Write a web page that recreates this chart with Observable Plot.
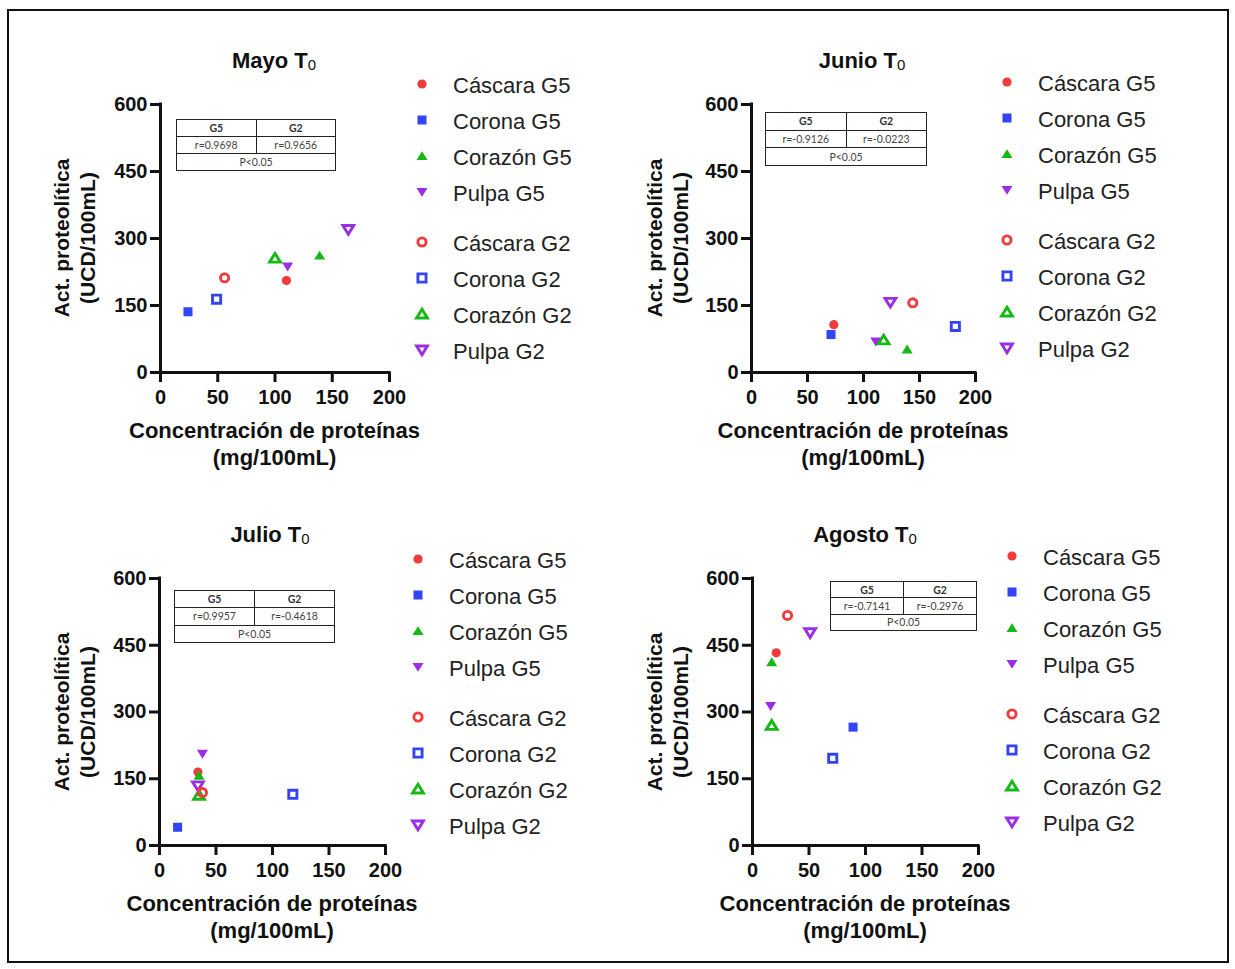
<!DOCTYPE html>
<html><head><meta charset="utf-8">
<script src="https://cdn.jsdelivr.net/npm/d3@7"></script>
<script src="https://cdn.jsdelivr.net/npm/@observablehq/plot@0.6"></script>
<style>
body{margin:0;background:#fff;font-family:"Liberation Sans",Arial,sans-serif;}
#fig{position:relative;width:1235px;height:969px;overflow:hidden;background:#fff;}
#border{position:absolute;left:7px;top:9px;width:1222px;height:954px;border:2px solid #111;box-sizing:border-box;}
.abs{position:absolute;}
.title{font-size:22px;font-weight:bold;color:#111;white-space:nowrap;transform:translate(-50%,-50%);}
.title sub{font-size:15px;font-weight:normal;vertical-align:baseline;position:relative;top:2px;}
.ylab{font-size:21px;font-weight:bold;color:#111;text-align:center;line-height:26px;white-space:nowrap;transform:translate(-50%,-50%) rotate(-90deg);}
.xlab{font-size:22px;font-weight:bold;color:#111;text-align:center;line-height:27px;white-space:nowrap;transform:translate(-50%,-50%);}
.leg{font-size:22px;color:#222;white-space:nowrap;line-height:26px;transform:translateY(-50%);}
.legsym{position:absolute;transform:translate(-50%,-50%);}
table.rt{position:absolute;border-collapse:collapse;font-family:Lato,"Open Sans",sans-serif;font-size:10.5px;color:#444;table-layout:fixed;}
table.rt td{border:1.6px solid #222;text-align:center;padding:0;line-height:14px;}
table.rt tr.h td{font-weight:bold;color:#333;}
</style></head>
<body><div id="fig"><div id="border"></div></div>
<script>
// ---- data ----
const months = ["Mayo", "Junio", "Julio", "Agosto"];
const parts = ["Cáscara", "Corona", "Corazón", "Pulpa"];
const colors = ["#f43b3b", "#3344f5", "#16b816", "#9a2ee6"];
const xTicks = [0, 50, 100, 150, 200];
const yTicks = [0, 150, 300, 450, 600];

// G5 (filled) values per month, order = parts
const g5x = {Mayo: [110, 24, 139, 111], Junio: [73.5, 71, 139, 111], Julio: [34, 16, 35, 38], Agosto: [21, 89, 17, 16]};
const g5y = {Mayo: [206, 136, 262, 237], Junio: [107, 85, 52, 69], Julio: [165, 41, 157, 206], Agosto: [433, 266, 412, 313]};
// G2 (open) values per month
const g2x = {Mayo: [56, 49, 100, 164], Junio: [144, 182, 118, 124], Julio: [38, 118, 35, 34], Agosto: [31, 71, 17, 51]};
const g2y = {Mayo: [212, 164, 256, 320], Junio: [156, 103, 73, 157], Julio: [119, 115, 113, 134], Agosto: [517, 196, 270, 478]};

const rG5 = ["r=0.9698", "r=-0.9126", "r=0.9957", "r=-0.7141"];
const rG2 = ["r=0.9656", "r=-0.0223", "r=-0.4618", "r=-0.2976"];
const pText = "P<0.05";
const yLabel = ["Act. proteolítica", "(UCD/100mL)"];
const xLabel = ["Concentración de proteínas", "(mg/100mL)"];

// ---- layout (pixels) ----
const layout = [
  {fx:160, fy:104, fw:229, fh:268, tx:274, ty:61,  ylx:75,  xly:444, lx:422,  ly:86,  tb:[176,119,160,52]},
  {fx:751, fy:104, fw:224, fh:268, tx:862, ty:61,  ylx:668, xly:444, lx:1007, ly:84,  tb:[765,112,162,54]},
  {fx:159, fy:578, fw:226, fh:267, tx:270, ty:535, ylx:75,  xly:917, lx:418,  ly:561, tb:[174,590,161,53]},
  {fx:752, fy:578, fw:226, fh:267, tx:865, ty:535, ylx:668, xly:917, lx:1012, ly:558, tb:[830,581,147,50]}
];

// ---- symbols ----
const triUp = {draw(c, size){const r = Math.sqrt(size/Math.PI); const w = r*1.2, h = r*1.05; c.moveTo(0,-h); c.lineTo(w,h*0.85); c.lineTo(-w,h*0.85); c.closePath();}};
const triDown = {draw(c, size){const r = Math.sqrt(size/Math.PI); const w = r*1.2, h = r*1.05; c.moveTo(0,h); c.lineTo(w,-h*0.85); c.lineTo(-w,-h*0.85); c.closePath();}};
const symbols = [d3.symbolCircle, d3.symbolSquare, triUp, triDown];
const rFilled = [4.6, 5.1, 4.6, 4.6];
const rOpen = [4.1, 4.6, 4.5, 4.5];
const openWidth = 2.9;

const fig = document.getElementById("fig");
function add(html, cls, left, top){
  const d = document.createElement("div");
  d.className = "abs " + cls; d.style.left = left + "px"; d.style.top = top + "px";
  d.innerHTML = html; fig.appendChild(d); return d;
}
function symSvg(i, filled){
  const r = filled ? rFilled[i] : rOpen[i];
  const p = d3.path(); symbols[i].draw(p, r*r*Math.PI);
  return `<svg width="18" height="18" viewBox="-9 -9 18 18"><path d="${p}" fill="${filled ? colors[i] : "none"}" stroke="${filled ? "none" : colors[i]}" stroke-width="${openWidth}"/></svg>`;
}

months.forEach((m, k) => {
  const L = layout[k];
  const g5 = parts.map((p, i) => ({part: p, i, x: g5x[m][i], y: g5y[m][i]}));
  const g2 = parts.map((p, i) => ({part: p, i, x: g2x[m][i], y: g2y[m][i]}));
  const mL = 60, mT = 10, mB = 40, mR = 20;
  const chart = Plot.plot({
    width: L.fw + mL + mR, height: L.fh + mT + mB,
    marginLeft: mL, marginRight: mR, marginTop: mT, marginBottom: mB,
    style: {fontFamily: "'Liberation Sans', Arial, sans-serif", fontSize: "20px", fontWeight: "bold", color: "#111", background: "transparent", overflow: "visible"},
    x: {domain: [0, 200]},
    y: {domain: [0, 600]},
    symbol: {domain: parts, range: symbols},
    color: {domain: parts, range: colors},
    r: {type: "identity"},
    marks: [
      Plot.axisX({ticks: xTicks, tickSize: 10, tickPadding: 7, strokeWidth: 3, stroke: "#111", strokeOpacity: 1, fontSize: 20, fontWeight: "bold", label: null}),
      Plot.axisY({ticks: yTicks, tickSize: 10, tickPadding: 3, strokeWidth: 3, stroke: "#111", strokeOpacity: 1, fontSize: 20, fontWeight: "bold", label: null}),
      Plot.ruleY([0], {strokeWidth: 3, strokeLinecap: "square", stroke: "#111"}),
      Plot.ruleX([0], {strokeWidth: 3, strokeLinecap: "square", stroke: "#111"}),
      Plot.dot(g5, {x: "x", y: "y", symbol: "part", fill: "part", r: d => rFilled[d.i], stroke: "none"}),
      Plot.dot(g2, {x: "x", y: "y", symbol: "part", stroke: "part", fill: "none", r: d => rOpen[d.i], strokeWidth: openWidth})
    ]
  });
  chart.style.position = "absolute";
  chart.style.left = (L.fx - mL) + "px";
  chart.style.top = (L.fy - mT) + "px";
  fig.appendChild(chart);

  add(`${m} T<sub>0</sub>`, "title", L.tx, L.ty);
  add(yLabel.join("<br>"), "ylab", L.ylx, L.fy + L.fh/2);
  add(xLabel.join("<br>"), "xlab", L.fx + L.fw/2, L.xly);

  // legend
  const step = 36, gap = 158;
  [true, false].forEach((filled, g) => {
    parts.forEach((p, i) => {
      const y = L.ly + (g ? gap : 0) + i*step;
      add(symSvg(i, filled), "legsym", L.lx, y);
      add(`${p} ${filled ? "G5" : "G2"}`, "leg", L.lx + 31, y);
    });
  });

  // correlation table
  const [tx, ty, tw, th] = L.tb;
  const t = document.createElement("table");
  t.className = "rt";
  t.style.left = tx + "px"; t.style.top = ty + "px"; t.style.width = tw + "px"; t.style.height = th + "px";
  t.innerHTML = `<colgroup><col style="width:50%"><col style="width:50%"></colgroup>
    <tr class="h"><td>G5</td><td>G2</td></tr>
    <tr><td>${rG5[k]}</td><td>${rG2[k]}</td></tr>
    <tr><td colspan="2">${pText}</td></tr>`;
  fig.appendChild(t);
});
</script>
</body></html>
